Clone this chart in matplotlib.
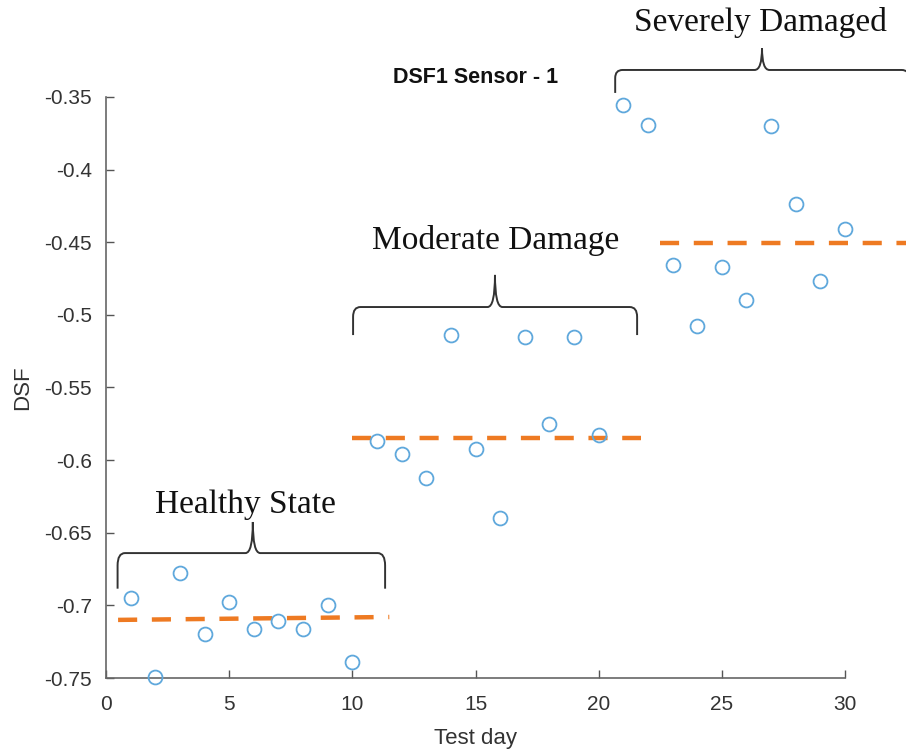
import numpy as np
import matplotlib
matplotlib.use("Agg")
import matplotlib.pyplot as plt
from matplotlib.path import Path
from matplotlib.patches import PathPatch

# data
days = list(range(1, 31))
dsf = [-0.695, -0.749, -0.678, -0.720, -0.698, -0.716, -0.711, -0.716, -0.700, -0.739,
       -0.587, -0.596, -0.612, -0.514, -0.592, -0.640, -0.515, -0.575, -0.515, -0.583,
       -0.3555, -0.369, -0.466, -0.508, -0.467, -0.490, -0.370, -0.424, -0.477, -0.441]

# dashed mean lines (x start, x end, y start, y end)
mean_x0 = [0.49, 10.0, 22.5]
mean_x1 = [11.5, 21.7, 32.6]
mean_y0 = [-0.710, -0.585, -0.4505]
mean_y1 = [-0.708, -0.585, -0.4505]

# state labels and braces
state_names = ["Healthy State", "Moderate Damage", "Severely Damaged"]
brace_x0 = [0.47, 10.03, 20.67]
brace_x1 = [11.33, 21.56, 32.6]
brace_mid = [5.96, 15.79, 26.63]
brace_tip = [-0.6885, -0.5139, -0.3472]
brace_top = [-0.664, -0.4946, -0.3314]
brace_peak = [-0.6426, -0.4725, -0.3163]
label_x = [5.68, 15.83, 26.55]
label_y = [-0.631, -0.4485, -0.2984]

xticks = [0, 5, 10, 15, 20, 25, 30]
yticks = [-0.75, -0.7, -0.65, -0.6, -0.55, -0.5, -0.45, -0.4, -0.35]
ytick_labels = ["-0.75", "-0.7", "-0.65", "-0.6", "-0.55", "-0.5", "-0.45", "-0.4", "-0.35"]

plt.rcParams['font.family'] = ['Liberation Sans', 'DejaVu Sans']

fig = plt.figure(figsize=(9.06, 7.53), dpi=100)
ax = fig.add_axes([0.117, 0.0996, 0.8157, 0.7716])

ax.plot(days, dsf, 'o', markersize=10, markerfacecolor='none',
        markeredgecolor='#5fa8dc', markeredgewidth=1.3, clip_on=False, zorder=3)

for a, b, c, d in zip(mean_x0, mean_x1, mean_y0, mean_y1):
    ax.plot([a, b], [c, d], color='#ee7a22', linewidth=3.2,
            dashes=(4.3, 3.3), clip_on=False, zorder=2)


def brace(x0, x1, xm, ytip, ytop, ypeak):
    rx = 0.3
    ry = (ytip - ytop) * 0.35
    verts = [(x0, ytip), (x0, ytop + ry), (x0, ytop), (x0 + rx, ytop),
             (xm - rx, ytop), (xm, ytop), (xm, ypeak),
             (xm, ytop), (xm + rx, ytop),
             (x1 - rx, ytop), (x1, ytop), (x1, ytop + ry), (x1, ytip)]
    codes = [Path.MOVETO, Path.LINETO, Path.CURVE3, Path.CURVE3,
             Path.LINETO, Path.CURVE3, Path.CURVE3,
             Path.CURVE3, Path.CURVE3,
             Path.LINETO, Path.CURVE3, Path.CURVE3, Path.LINETO]
    return PathPatch(Path(verts, codes), facecolor='none', edgecolor='#333333',
                     linewidth=1.4, clip_on=False)


for i in range(3):
    ax.add_patch(brace(brace_x0[i], brace_x1[i], brace_mid[i],
                       brace_tip[i], brace_top[i], brace_peak[i]))
    ax.text(label_x[i], label_y[i], state_names[i], family=['Liberation Serif'],
            fontsize=24, ha='center', va='center', color='#111111')

ax.set_xlim(0, 30)
ax.set_ylim(-0.75, -0.35)
ax.set_xticks(xticks)
ax.set_xticklabels([str(t) for t in xticks])
ax.set_yticks(yticks)
ax.set_yticklabels(ytick_labels)
ax.tick_params(direction='in', length=6, width=1, colors='#555555',
               labelcolor='#333333', labelsize=15)
ax.tick_params(axis='x', pad=12)
ax.tick_params(axis='y', pad=10)
for s in ['top', 'right']:
    ax.spines[s].set_visible(False)
for s in ['left', 'bottom']:
    ax.spines[s].set_color('#666666')
    ax.spines[s].set_linewidth(1.2)

ax.set_xlabel('Test day', fontsize=16, color='#333333', labelpad=10)
ax.set_ylabel('DSF', fontsize=16, color='#333333', labelpad=8)
ax.text(0.5, 1.033, 'DSF1 Sensor - 1', transform=ax.transAxes, ha='center',
        va='center', fontsize=15.5, fontweight='bold', color='#111111')

fig.savefig('out.png', dpi=100)
